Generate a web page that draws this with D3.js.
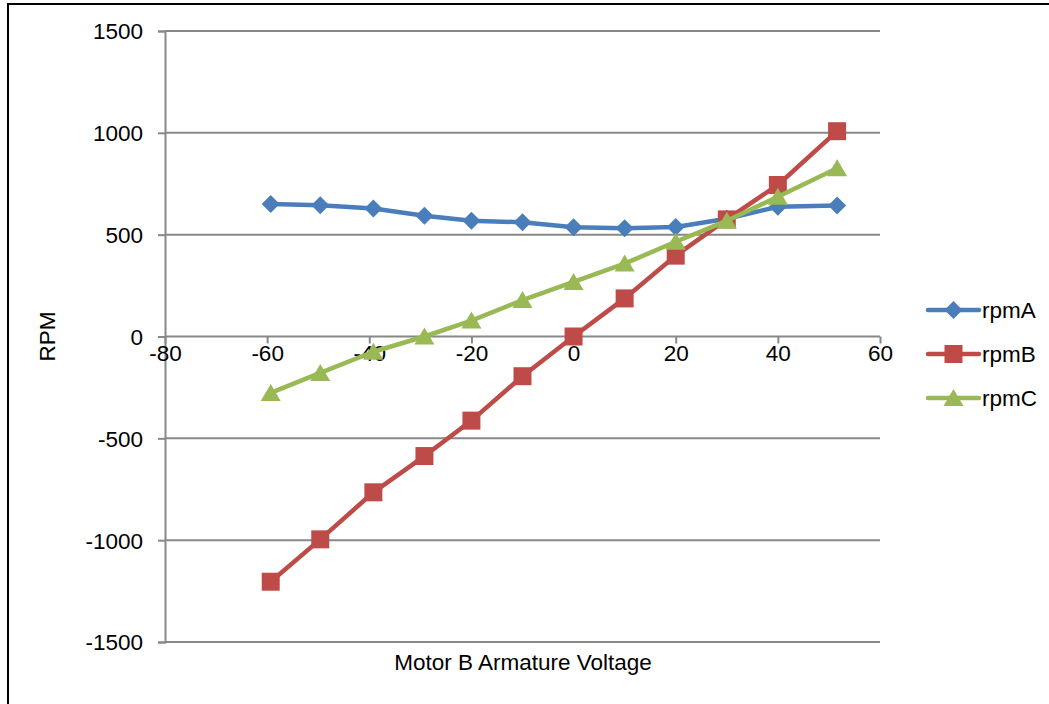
<!DOCTYPE html>
<html>
<head>
<meta charset="utf-8">
<script src="https://cdn.jsdelivr.net/npm/d3@7"></script>
<style>
  body { margin: 0; background: #fff; }
  text { font-family: "Liberation Sans", Arial, sans-serif; fill: #000; }
</style>
</head>
<body>
<div id="chart"></div>
<script>
var voltage = [-59.3, -49.6, -39.2, -29.2, -20, -10, 0, 10, 20, 30, 40, 51.6];
var rpmA = [650, 645, 628, 593, 568, 561, 536, 532, 538, 578, 637, 643];
var rpmB = [-1204, -996, -765, -587, -413, -195, 0, 187, 397, 575, 744, 1008];
var rpmC = [-277, -179, -75, 0, 78, 179, 268, 358, 465, 568, 686, 826];
var seriesNames = ["rpmA", "rpmB", "rpmC"];
var seriesColors = ["#4A7EBB", "#BE4B48", "#98B954"];
var xTicks = [-80, -60, -40, -20, 0, 20, 40, 60];
var yTicks = [-1500, -1000, -500, 0, 500, 1000, 1500];

var width = 1049, height = 704;
var plot = { left: 165, right: 880, top: 31, bottom: 642 };
var fontSize = "22.5px";
var fmt = function (d) { return String(d); };

var svg = d3.select("#chart").append("svg")
  .attr("width", width).attr("height", height);

// outer frame (right and bottom edges fall outside the picture)
svg.append("path")
  .attr("d", "M8," + height + "V4H" + width)
  .attr("fill", "none").attr("stroke", "#000").attr("stroke-width", 2);

var x = d3.scaleLinear().domain([-80, 60]).range([plot.left, plot.right]);
var y = d3.scaleLinear().domain([-1500, 1500]).range([plot.bottom, plot.top]);

// horizontal gridlines
svg.append("g").selectAll("line").data(yTicks).enter().append("line")
  .attr("x1", plot.left).attr("x2", plot.right)
  .attr("y1", function (d) { return y(d); }).attr("y2", function (d) { return y(d); })
  .attr("stroke", "#888").attr("stroke-width", 2);

// y axis
var yAxis = svg.append("g")
  .attr("transform", "translate(" + plot.left + ",0)")
  .call(d3.axisLeft(y).tickValues(yTicks).tickFormat(fmt).tickSize(7).tickPadding(15));
yAxis.select(".domain").attr("stroke", "#888").attr("stroke-width", 2);
yAxis.selectAll(".tick line").attr("stroke", "#888").attr("stroke-width", 2);
yAxis.selectAll(".tick text").style("font-size", fontSize).attr("dy", "0.35em")
  .attr("font-family", null);

// x axis crossing at zero
var xAxis = svg.append("g")
  .attr("transform", "translate(0," + y(0) + ")")
  .call(d3.axisBottom(x).tickValues(xTicks).tickFormat(fmt).tickSize(7).tickPadding(2));
xAxis.select(".domain").remove();
xAxis.selectAll(".tick line").attr("stroke", "#888").attr("stroke-width", 2);
xAxis.selectAll(".tick text").style("font-size", fontSize).attr("font-family", null);

// axis titles
svg.append("text")
  .attr("x", 523).attr("y", 670)
  .attr("text-anchor", "middle")
  .style("font-size", fontSize)
  .text("Motor B Armature Voltage");

svg.append("text")
  .attr("transform", "translate(47," + ((plot.top + plot.bottom) / 2) + ") rotate(-90)")
  .attr("text-anchor", "middle")
  .attr("dy", "0.35em")
  .style("font-size", fontSize)
  .text("RPM");

// marker shapes
function marker(kind) {
  if (kind === 0) return "M0,-9L9,0L0,9L-9,0Z";
  if (kind === 1) return "M-9,-9H9V9H-9Z";
  return "M0,-9L10,8H-10Z";
}

var allSeries = [rpmA, rpmB, rpmC];
var line = d3.line()
  .x(function (d, i) { return x(voltage[i]); })
  .y(function (d) { return y(d); });

allSeries.forEach(function (vals, s) {
  var g = svg.append("g");
  g.append("path")
    .attr("d", line(vals))
    .attr("fill", "none")
    .attr("stroke", seriesColors[s])
    .attr("stroke-width", 4.5)
    .attr("stroke-linejoin", "round");
  g.selectAll("path.pt").data(vals).enter().append("path")
    .attr("class", "pt")
    .attr("d", marker(s))
    .attr("fill", seriesColors[s])
    .attr("transform", function (d, i) {
      return "translate(" + x(voltage[i]) + "," + y(d) + ")";
    });
});

// legend
var legend = svg.append("g").attr("transform", "translate(928,310)");
seriesNames.forEach(function (name, s) {
  var row = legend.append("g").attr("transform", "translate(0," + (s * 44) + ")");
  row.append("line")
    .attr("x1", 0).attr("x2", 51).attr("y1", 0).attr("y2", 0)
    .attr("stroke", seriesColors[s]).attr("stroke-width", 4.5)
    .attr("stroke-linecap", "round");
  row.append("path")
    .attr("d", marker(s))
    .attr("fill", seriesColors[s])
    .attr("transform", "translate(25.5,0)");
  row.append("text")
    .attr("x", 54).attr("dy", "0.35em")
    .style("font-size", fontSize)
    .text(name);
});
</script>
</body>
</html>
